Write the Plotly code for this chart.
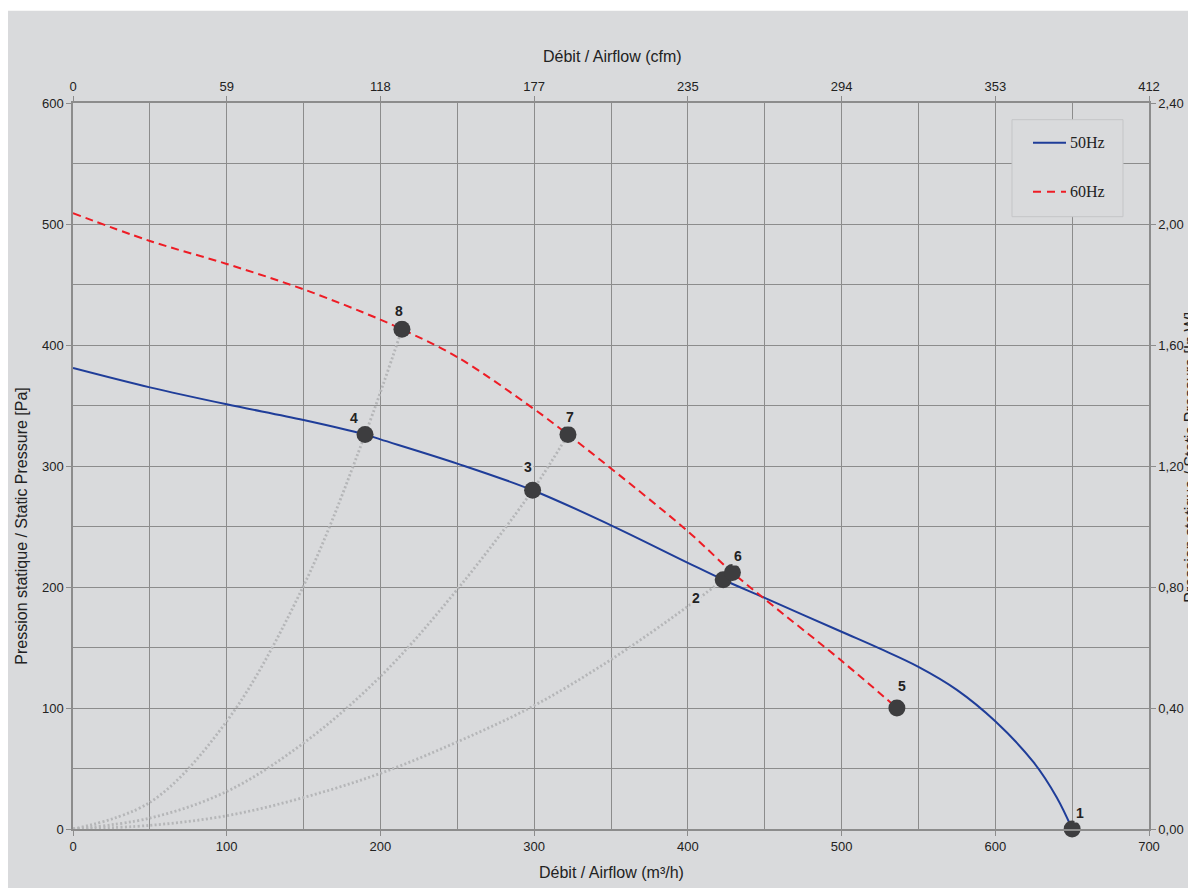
import plotly.graph_objects as go

# ---------------- data ----------------
flow_50 = [0, 50, 100, 150, 190, 200, 250, 299, 350, 400, 423, 450, 500, 525, 550, 575, 600, 625, 640, 650]
pres_50 = [381, 365, 351, 338, 326, 322, 302, 280, 251, 220, 206, 191, 163, 149, 134, 115, 89, 55, 26, 0]

flow_60 = [0, 50, 100, 150, 200, 214, 250, 300, 322, 350, 400, 429, 450, 500, 536]
pres_60 = [509, 486, 467, 446, 421, 413, 390, 347, 326, 298, 246, 212, 190, 139, 100]

sys_a_flow = [0, 50, 100, 150, 190, 214]
sys_a_pres = [0, 22, 89, 201, 326, 413]
sys_b_flow = [0, 50, 100, 150, 200, 250, 299, 322]
sys_b_pres = [0, 9, 31, 71, 126, 198, 280, 326]
sys_c_flow = [0, 50, 100, 150, 200, 250, 300, 350, 400, 423, 429]
sys_c_pres = [0, 3, 11, 26, 46, 72, 102, 140, 184, 206, 212]

point_ids = ["1", "2", "3", "4", "5", "6", "7", "8"]
point_flow = [650, 423, 299, 190, 536, 429, 322, 214]
point_pres = [0, 206, 280, 326, 100, 212, 326, 413]

m3h_ticks = [0, 100, 200, 300, 400, 500, 600, 700]
cfm_labels = ["0", "59", "118", "177", "235", "294", "353", "412"]
pa_ticks = [0, 100, 200, 300, 400, 500, 600]
inwg_labels = ["0,00", "0,40", "0,80", "1,20", "1,60", "2,00", "2,40"]

series_names = ["50Hz", "60Hz"]

# ---------------- style ----------------
BG = "#d9dadc"
GRID = "#8c8c8c"
TXT = "#222222"
FONT = "Liberation Sans, Arial, sans-serif"
SERIF = "Liberation Serif, Times New Roman, serif"
BLUE = "#1f3d99"
RED = "#ee1c25"
DOT = "#b5b6b8"
MARK = "#3d3d3f"

# page offset (body margin) -> work in screen pixels, convert to figure pixels
OX, OY = 8, 8
W, H = 1196, 888
L, R, T, B = 73 - OX, 1149 - OX, 103.3 - OY, 829.3 - OY
PW, PH = R - L, B - T


def px(xs):
    return (xs - OX - L) / PW


def py(ys):
    return (B - (ys - OY)) / PH


# label offsets in px (dx right, dy up) per point id
label_offsets = {
    "1": (8, 16), "2": (-27, -18), "3": (-5, 23), "4": (-11, 17),
    "5": (5, 22), "6": (6, 16), "7": (2, 18), "8": (-3, 18),
}

fig = go.Figure()

for fx, fy in [(sys_a_flow, sys_a_pres), (sys_b_flow, sys_b_pres), (sys_c_flow, sys_c_pres)]:
    fig.add_trace(go.Scatter(
        x=fx, y=fy, mode="lines", showlegend=False, hoverinfo="skip",
        line=dict(color=DOT, width=2.8, dash="2px,2.3px", shape="spline", smoothing=1.0),
    ))

fig.add_trace(go.Scatter(
    x=flow_50, y=pres_50, mode="lines", name=series_names[0], showlegend=False,
    line=dict(color=BLUE, width=2, shape="spline", smoothing=1.0),
))
fig.add_trace(go.Scatter(
    x=flow_60, y=pres_60, mode="lines", name=series_names[1], showlegend=False,
    line=dict(color=RED, width=2, dash="8px,5px", shape="spline", smoothing=1.0),
))

fig.add_trace(go.Scatter(
    x=point_flow, y=point_pres, mode="markers", showlegend=False, cliponaxis=False,
    xaxis="x2", yaxis="y2",
    marker=dict(size=17, color=MARK),
    text=point_ids, hovertemplate="%{text}: %{x} m³/h, %{y} Pa<extra></extra>",
))

annotations = []
for pid, fx, fy in zip(point_ids, point_flow, point_pres):
    dx, dy = label_offsets[pid]
    annotations.append(dict(
        x=fx, y=fy, xref="x", yref="y", text=f"<b>{pid}</b>", showarrow=False,
        xanchor="center", yanchor="middle",
        xshift=dx, yshift=dy, font=dict(family=FONT, size=14, color="#222222"),
        bgcolor=BG, borderpad=1,
    ))

title_font = dict(family=FONT, size=16, color=TXT)
annotations += [
    dict(x=px(612), y=py(57), text="Débit / Airflow (cfm)", font=title_font),
    dict(x=px(611), y=py(873), text="Débit / Airflow (m³/h)", font=title_font),
    dict(x=px(22), y=py(527), text="Pression statique / Static Pressure [Pa]",
         textangle=-90, font=title_font),
    dict(x=px(1191), y=py(458), text="Pression statique / Static Pressure [In.W]",
         textangle=-90, font=title_font),
]
for a in annotations[len(point_ids):]:
    a.update(xref="paper", yref="paper", showarrow=False, xanchor="center", yanchor="middle")

# manual legend (box, samples, labels)
leg_x0, leg_x1, leg_y0, leg_y1 = 1012, 1123, 120, 217
leg_rows = [143, 192]
leg_styles = [dict(color=BLUE, width=2), dict(color=RED, width=2, dash="8px,6px")]
shapes = [
    dict(type="rect", xref="paper", yref="paper", layer="below",
         x0=px(OX), x1=px(W + OX + 20), y0=py(H + 20), y1=py(11),
         fillcolor=BG, line=dict(width=0)),
    dict(type="rect", xref="paper", yref="paper", layer="above",
         x0=px(leg_x0), x1=px(leg_x1), y0=py(leg_y1), y1=py(leg_y0),
         fillcolor=BG, line=dict(color="#c4c5c7", width=1)),
]
for name, yrow, st in zip(series_names, leg_rows, leg_styles):
    shapes.append(dict(type="line", xref="paper", yref="paper", layer="above",
                       x0=px(1033), x1=px(1066), y0=py(yrow), y1=py(yrow), line=st))
    annotations.append(dict(x=px(1068), y=py(yrow), xref="paper", yref="paper", text=name,
                            showarrow=False, xanchor="left", yanchor="middle",
                            font=dict(family=SERIF, size=16, color=TXT)))

axis_common = dict(
    showline=True, linecolor=GRID, linewidth=1.5, ticks="outside", ticklen=5,
    tickcolor=GRID, tickfont=dict(family=FONT, size=13, color=TXT), zeroline=False,
)

fig.update_layout(
    width=W, height=H,
    margin=dict(l=L, r=W - R, t=T, b=H - B, pad=0),
    paper_bgcolor="white", plot_bgcolor=BG,
    font=dict(family=FONT, color=TXT),
    showlegend=False,
    xaxis=dict(range=[0, 700], tickvals=m3h_ticks, showgrid=True, gridcolor=GRID, gridwidth=1,
               minor=dict(dtick=50, showgrid=True, gridcolor=GRID, gridwidth=1), **axis_common),
    yaxis=dict(range=[0, 600], tickvals=pa_ticks, showgrid=True, gridcolor=GRID, gridwidth=1,
               minor=dict(dtick=50, showgrid=True, gridcolor=GRID, gridwidth=1), **axis_common),
    xaxis2=dict(range=[0, 700], overlaying="x", side="top", tickvals=m3h_ticks, ticktext=cfm_labels,
                showgrid=False, **axis_common),
    yaxis2=dict(range=[0, 600], overlaying="y", side="right", tickvals=pa_ticks, ticktext=inwg_labels,
                showgrid=False, **axis_common),
    annotations=annotations,
    shapes=shapes,
    hovermode="closest",
)

fig.write_html("out.html")
